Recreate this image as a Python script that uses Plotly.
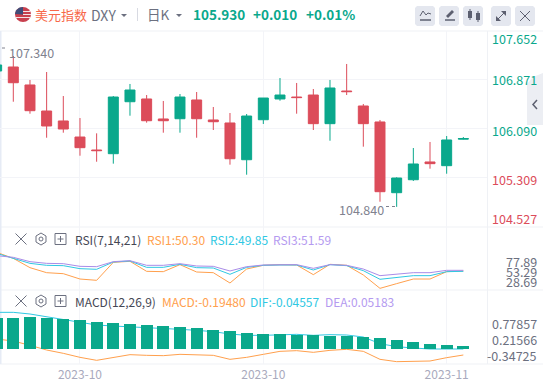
import plotly.graph_objects as go

W, H = 543, 386
FONT = "Noto Sans CJK SC"
GREEN, RED = "#0aa88c", "#dc4c5a"
ORANGE, CYAN, PURPLE = "#ffa04d", "#2fc8e3", "#a98ce8"
GRID = "#f3f4f8"

candle_index = [-1, 0, 1, 2, 3, 4, 5, 6, 7, 8, 9, 10, 11, 12, 13, 14, 15, 16, 17, 18, 19, 20, 21, 22, 23, 24, 25, 26, 27]
opens = [107.007, 107.071, 106.784, 106.369, 106.210, 105.954, 105.747, 105.688, 106.517, 106.561, 106.242, 106.246, 106.545, 106.226, 106.178,
         105.592, 106.230, 106.561, 106.592, 106.624, 106.167, 106.688, 106.449, 106.194, 105.066, 105.273, 105.556, 105.497, 105.920]
highs = [107.340, 107.246, 106.864, 106.991, 106.608, 106.257, 106.013, 106.608, 106.800, 106.624, 106.529, 106.640, 106.672, 106.433, 106.337,
         106.321, 106.576, 106.895, 106.816, 106.720, 106.864, 107.119, 106.481, 106.226, 105.312, 105.779, 105.875, 105.970, 105.954]
lows = [106.900, 106.517, 106.326, 105.943, 106.023, 105.656, 105.560, 105.529, 106.294, 106.183, 106.023, 106.023, 105.943, 106.066, 105.513,
        105.353, 106.162, 106.533, 106.326, 106.066, 105.895, 106.624, 105.800, 104.922, 104.840, 105.253, 105.449, 105.369, 105.915]
closes = [107.103, 106.820, 106.374, 106.130, 106.082, 105.784, 105.737, 106.592, 106.704, 106.214, 106.214, 106.592, 106.246, 106.198, 105.608,
          106.289, 106.576, 106.624, 106.583, 106.167, 106.736, 106.678, 106.167, 105.082, 105.300, 105.524, 105.529, 105.907, 105.930]

rsi1 = [97.7, 83.4, 61.2, 49.3, 46.9, 34.2, 31.1, 73.9, 76.3, 52.5, 51.7, 68.4, 50.9, 49.3, 24.7, 58.0, 66.8, 68.4, 67.6, 44.6, 69.2, 66.8, 43.8, 12.0, 23.2, 34.2, 34.2, 51.7, 53.3]
rsi2 = [95.3, 83.4, 71.5, 66.8, 66.0, 58.8, 57.3, 74.7, 77.1, 62.0, 62.0, 69.2, 61.2, 60.4, 45.4, 62.0, 66.8, 67.6, 67.6, 55.7, 68.4, 66.0, 54.1, 33.5, 38.2, 42.2, 42.2, 51.7, 52.5]
rsi3 = [89.8, 85.8, 75.5, 71.5, 70.7, 64.4, 63.6, 75.5, 77.9, 66.8, 66.8, 70.7, 65.2, 64.4, 53.3, 63.6, 67.6, 68.4, 68.4, 59.6, 68.4, 66.8, 58.0, 42.2, 45.4, 49.3, 49.3, 54.9, 54.9]

macd_bars = [1.0906, 1.0906, 1.1258, 1.1023, 1.0554, 1.0202, .9499, .9147, .8795, .8443, .8092, .7740, .7388, .6684, .6333, .5629, .5277, .5277, .4925, .4925, .4574, .4574, .4222, .3870, .3166, .2463, .1759, .1407, .1055]
macd_base = -0.111
dif_line = [1.1783, 1.1783, 1.1197, 1.0259, .9203, .8148, .7327, .6975, .6741, .6506, .6271, .5802, .5450, .4981, .4160, .3692, .3692, .3926, .4043, .3692, .3926, .3809, .3105, .0760, -.0295, -.0764, -.1116, -.1116, -.1116]
macd_line = [.2401, .1698, .0173, -.1468, -.2641, -.4048, -.5103, -.4048, -.3110, -.3344, -.3462, -.2993, -.3110, -.3344, -.4752, -.4048, -.2993, -.1937, -.1703, -.2289, -.1586, -.1234, -.1937, -.4752, -.5573, -.5573, -.5338, -.4165, -.3227]

x_tickvals = [4, 15, 26]
x_ticktext = ["2023-10", "2023-10", "2023-11"]
price_grid = [106.871, 106.090, 105.309]
price_labels = ["107.652", "106.871", "106.090", "105.309", "104.527"]
rsi_labels = ["77.89", "53.29", "28.69"]
macd_labels = ["0.77857", "0.21566", "-0.34725"]

X_RANGE = [-0.798, 28.42]
def fx(x): return x / W
def fy(y): return 1 - y / H

fig = go.Figure()
line_kw = dict(mode="lines", hoverinfo="skip", showlegend=False)
fig.add_trace(go.Candlestick(x=candle_index, open=opens, high=highs, low=lows, close=closes, xaxis="x3", yaxis="y3", showlegend=False,
                             increasing=dict(line=dict(color=GREEN, width=1), fillcolor=GREEN),
                             decreasing=dict(line=dict(color=RED, width=1), fillcolor=RED), whiskerwidth=0))
for s, c in ((rsi1, ORANGE), (rsi2, CYAN), (rsi3, PURPLE)):
    fig.add_trace(go.Scatter(x=candle_index, y=s, xaxis="x2", yaxis="y2", line=dict(color=c, width=1), **line_kw))
for s, c in ((macd_line, ORANGE), (dif_line, CYAN)):
    fig.add_trace(go.Scatter(x=candle_index, y=s, xaxis="x", yaxis="y", line=dict(color=c, width=1), **line_kw))
fig.add_trace(go.Bar(x=candle_index, y=macd_bars, base=macd_base, width=0.72, marker=dict(color=GREEN, line=dict(width=0)),
                     xaxis="x", yaxis="y4", showlegend=False, hoverinfo="skip"))

shapes, annotations = [], []
def label(x, y, text, color, size=12, anchor="left", bold=False):
    t = f"<b>{text}</b>" if bold else text
    annotations.append(dict(x=fx(x), y=fy(y), xref="paper", yref="paper", text=t, showarrow=False, xanchor=anchor, yanchor="middle",
                            font=dict(family=FONT, size=size, color=color), borderpad=0, borderwidth=0, xshift=0))
def seg(x0, y0, x1, y1, color, width=1, dash="solid", layer="above"):
    shapes.append(dict(type="line", xref="paper", yref="paper", x0=fx(x0), y0=fy(y0), x1=fx(x1), y1=fy(y1), layer=layer, line=dict(color=color, width=width, dash=dash)))
def poly(points, fill=None, color=None, width=1, close=True):
    d = "M " + " L ".join(f"{fx(a):.5f},{fy(b):.5f}" for a, b in points) + (" Z" if close else "")
    shapes.append(dict(type="path", xref="paper", yref="paper", path=d, fillcolor=fill or "rgba(0,0,0,0)", line=dict(color=color or "rgba(0,0,0,0)", width=width)))
def rect(x0, y0, x1, y1, fill=None, color=None, width=1):
    shapes.append(dict(type="rect", xref="paper", yref="paper", x0=fx(x0), y0=fy(y0), x1=fx(x1), y1=fy(y1), fillcolor=fill or "rgba(0,0,0,0)", line=dict(color=color or "rgba(0,0,0,0)", width=width)))

# panel frames
for y in (31, 227, 290, 364):
    seg(0, y, W, y, "#eff1f5", layer="below")
seg(487.5, 31, 487.5, 364, "#eff1f5", layer="below")
seg(0.5, 31, 0.5, 364, "#e6ebf5", width=2, layer="below")

# header
shapes.append(dict(type="circle", xref="paper", yref="paper", x0=fx(15), y0=fy(22), x1=fx(31), y1=fy(7), fillcolor="#c8404e", line=dict(width=0)))
for y, a, b in ((11.5, 23, 30), (14.5, 23, 31), (17.5, 16, 30)):
    seg(a, y, b, y, "#f4e4e6", width=1)
poly([(15, 14), (16, 10.5), (19, 7.8), (23, 7), (23, 14.5)], fill="#3f4c78")
label(35, 14, "美元指数", "#f7694a", 13)
label(91, 15, "DXY", "#6c7080", 14)
poly([(121, 14), (127, 14), (124, 17)], fill="#6c7080")
seg(137.5, 8, 137.5, 21, "#d8dae2")
label(147, 14, "日K", "#6c7080", 13.5)
poly([(176, 14), (182, 14), (179, 17)], fill="#6c7080")
label(193, 14, "105.930", GREEN, 13.5, bold=True)
label(253, 14, "+0.010", GREEN, 13.5, bold=True)
label(306, 14, "+0.01%", GREEN, 13.5, bold=True)

# toolbar buttons
for a in (415, 439, 463, 491, 515):
    shapes.append(dict(type="path", xref="paper", yref="paper", fillcolor="#e4e7ef", line=dict(width=0), path=(
        "M " + " L ".join(f"{fx(p):.5f},{fy(q):.5f}" for p, q in [(a+2, 6), (a+18, 6), (a+20, 8), (a+20, 24), (a+18, 26), (a+2, 26), (a, 24), (a, 8)]) + " Z")))
ICON = "#5d6070"
poly([(420, 16), (423, 11), (426, 15), (428, 13), (431, 14)], color=ICON, close=False)
seg(420, 20, 431, 20, ICON, 1.5)
poly([(446, 16), (452, 10), (454, 12), (448, 18)], fill=ICON)
seg(445, 20, 455, 20, ICON, 1.5)
rect(468, 11, 472, 18, fill=ICON); seg(470, 9, 470, 20, ICON)
rect(476, 13, 480, 20, fill=ICON); seg(478, 11, 478, 22, ICON)
seg(497, 20, 505, 12, ICON)
poly([(501, 11), (506, 11), (506, 16)], fill=ICON); poly([(496, 16), (496, 21), (501, 21)], fill=ICON)
seg(520, 11, 530, 21, ICON); seg(530, 11, 520, 21, ICON)

# collapse handle
poly([(543, 73), (533, 77), (527, 84), (527, 125), (543, 125)], fill="#eceef3")
poly([(537, 100), (533, 104.5), (537, 109)], color="#5d6070", width=1.5, close=False)

# price axis labels
for y, t, c in zip((38, 80, 130, 179, 218), price_labels, (GREEN, GREEN, GREEN, RED, RED)):
    label(537, y, t, c, 12.5, "right")
for y, t in zip((261, 271, 281.7), rsi_labels):
    label(537, y, t, "#6c7080", 12.5, "right")
for y, t in zip((323.7, 339.7, 355.7), macd_labels):
    label(537, y, t, "#6c7080", 12.5, "right")

# extreme labels
label(9, 52, "107.340", "#80828f", 12.5)
seg(2, 48, 7, 48, "#80828f", dash="dot")
label(384, 209, "104.840", "#80828f", 12.5, "right")
seg(386, 206.5, 397, 206.5, "#80828f", dash="dot")

# indicator legends
for yc in (239, 301):
    seg(15.5, yc-5.5, 26.5, yc+5.5, "#6c7080"); seg(26.5, yc-5.5, 15.5, yc+5.5, "#6c7080")
    poly([(41, yc-6), (46, yc-3), (46, yc+3), (41, yc+6), (36, yc+3), (36, yc-3)], color="#6c7080")
    shapes.append(dict(type="circle", xref="paper", yref="paper", x0=fx(39), x1=fx(43), y0=fy(yc+2), y1=fy(yc-2), line=dict(color="#6c7080", width=1)))
    rect(55, yc-5.5, 66, yc+5.5, color="#6c7080")
    seg(57.5, yc, 63.5, yc, "#6c7080"); seg(60.5, yc-3, 60.5, yc+3, "#6c7080")
label(75, 239, "RSI(7,14,21)", "#454754", 12)
label(147, 239, "RSI1:50.30", ORANGE, 12)
label(210, 239, "RSI2:49.85", CYAN, 12)
label(273, 239, "RSI3:51.59", "#b49af0", 12)
label(75, 301, "MACD(12,26,9)", "#454754", 12)
label(162, 301, "MACD:-0.19480", ORANGE, 12)
label(250, 301, "DIF:-0.04557", CYAN, 12)
label(325, 301, "DEA:0.05183", "#b49af0", 12)

def x_axis(anchor, labels=False):
    return dict(domain=[0, 487 / W], range=X_RANGE, anchor=anchor, tickmode="array", tickvals=x_tickvals, ticktext=x_ticktext,
                showticklabels=labels, showgrid=True, gridcolor=GRID, gridwidth=1, zeroline=False, showline=False, ticks="",
                ticklabelstandoff=2, tickfont=dict(family=FONT, size=12, color="#a9aabd"), fixedrange=True, rangeslider=dict(visible=False))
def y_axis(top, bottom, rng, anchor, **kw):
    d = dict(domain=[1 - bottom / H, 1 - top / H], range=rng, anchor=anchor, showticklabels=False, showgrid=False, zeroline=False, showline=False, ticks="", fixedrange=True)
    d.update(kw)
    return d

MACD_RANGE = [-0.6392, 1.9641]
fig.update_layout(
    width=W, height=H, autosize=False, margin=dict(l=0, r=0, t=0, b=0), paper_bgcolor="white", plot_bgcolor="rgba(0,0,0,0)",
    showlegend=False, boxgap=0.4, boxgroupgap=0, bargap=0, hovermode=False,
    xaxis=x_axis("y", True), xaxis2=x_axis("y2"), xaxis3=x_axis("y3"),
    yaxis=y_axis(290, 364, MACD_RANGE, "x"),
    yaxis2=y_axis(227, 290, [8.07, 158.0], "x2"),
    yaxis3=y_axis(31, 227, [104.519, 107.645], "x3", tickmode="array", tickvals=price_grid, showgrid=True, gridcolor=GRID, gridwidth=1),
    yaxis4=dict(overlaying="y", range=MACD_RANGE, anchor="x", showticklabels=False, showgrid=False, zeroline=False, ticks="", fixedrange=True),
    shapes=shapes, annotations=annotations,
)
fig.write_html("out.html", config=dict(displayModeBar=False), post_script="document.body.style.margin='0';document.body.style.overflow='hidden';")
